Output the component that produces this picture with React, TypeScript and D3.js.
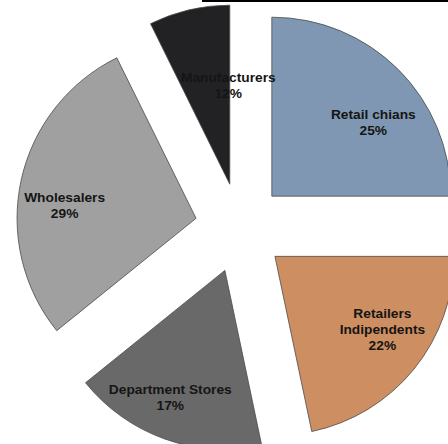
import React from "react";
import * as d3 from "d3";

const categories = ["Retail chians", "Retailers Indipendents", "Department Stores", "Wholesalers", "Manufacturers"];
const labelLines = [["Retail chians"], ["Retailers", "Indipendents"], ["Department Stores"], ["Wholesalers"], ["Manufacturers"]];
const shares = [25, 21.7, 17.5, 28.5, 7.3];
const percentLabels = ["25%", "22%", "17%", "29%", "12%"];
const colors = ["#7f97b2", "#cd8e62", "#696969", "#a0a0a0", "#222224"];
const labelRadiusFrac = [0.7, 0.727, 0.774, 0.738, 0.553];
const labelAngleShiftDeg = [9.1, -4.7, 3.6, -6.7, 12.3];

const W = 448;
const H = 444;
const CX = 240;
const CY = 228;
const R = 179;
const EXPLODE = 45;
const LINE_H = 16;

export default function App() {
  const pie = d3
    .pie<number>()
    .sort(null)
    .value((d) => d)
    .startAngle(0)
    .endAngle(2 * Math.PI);
  const arcs = pie(shares);
  const arcGen = d3.arc<d3.PieArcDatum<number>>().innerRadius(0).outerRadius(R);

  return (
    <svg
      width={W}
      height={H}
      style={{ position: "absolute", left: 0, top: 0, background: "#fff" }}
      fontFamily="'Liberation Sans', Arial, sans-serif"
    >
      <rect x={202} y={0} width={W - 202} height={2} fill="#000" />
      {arcs.map((a, i) => {
        const mid = (a.startAngle + a.endAngle) / 2;
        const ox = CX + EXPLODE * Math.sin(mid);
        const oy = CY - EXPLODE * Math.cos(mid);
        return (
          <g key={categories[i]} transform={`translate(${ox},${oy})`}>
            <path d={arcGen(a) || ""} fill={colors[i]} stroke="#4a4a4a" strokeWidth={0.8} />
          </g>
        );
      })}
      {arcs.map((a, i) => {
        const mid = (a.startAngle + a.endAngle) / 2;
        const ox = CX + EXPLODE * Math.sin(mid);
        const oy = CY - EXPLODE * Math.cos(mid);
        const la = mid + (labelAngleShiftDeg[i] * Math.PI) / 180;
        const lr = labelRadiusFrac[i] * R;
        const lx = ox + lr * Math.sin(la);
        const ly = oy - lr * Math.cos(la);
        const lines = [...labelLines[i], percentLabels[i]];
        const firstBaseline = ly - ((lines.length - 1) * LINE_H) / 2 + 4.5;
        return (
          <text
            key={"l" + i}
            transform={`translate(${lx},${firstBaseline}) scale(1.1,1)`}
            textAnchor="middle"
            fontSize={12.5}
            fontWeight="bold"
            fill="#151515"
          >
            {lines.map((t, j) => (
              <tspan key={j} x={0} y={j * LINE_H}>
                {t}
              </tspan>
            ))}
          </text>
        );
      })}
    </svg>
  );
}
